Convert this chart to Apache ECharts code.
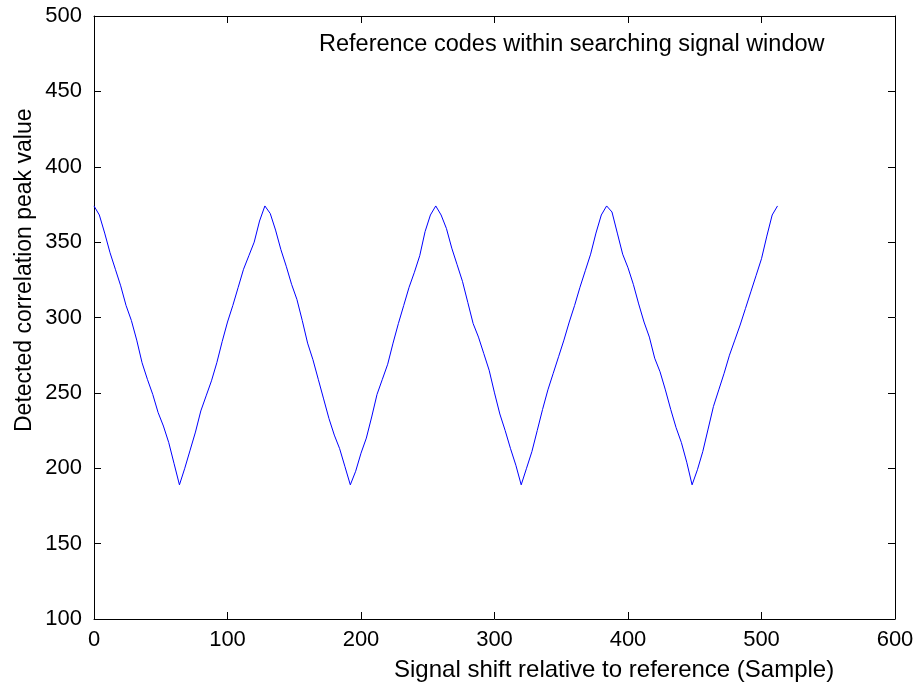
<!DOCTYPE html>
<html>
<head>
<meta charset="utf-8">
<script src="https://cdn.jsdelivr.net/npm/echarts@6/dist/echarts.min.js"></script>
<style>html,body{margin:0;padding:0;background:#fff}#c{width:922px;height:687px}</style>
</head>
<body>
<div id="c"></div>
<script>
var shift = [0,4,8,12,16,20,24,28,32,36,40,44,48,52,56,60,64,68,72,76,80,84,88,92,96,100,104,108,112,116,120,124,
128,132,136,140,144,148,152,156,160,164,168,172,176,180,184,188,192,196,200,204,208,212,216,220,224,228,232,236,240,244,248,252,
256,260,264,268,272,276,280,284,288,292,296,300,304,308,312,316,320,324,328,332,336,340,344,348,352,356,360,364,368,372,376,380,
384,388,392,396,400,404,408,412,416,420,424,428,432,436,440,444,448,452,456,460,464,468,472,476,480,484,488,492,496,500,504,508,512];
var peakValue = [374,368,356,343,332,321,308,298,285,270,259,249,237,228,217,203,189,200,212,224,238,248,258,270,284,297,308,320,332,341,350,364,
374,369,358,345,334,322,312,298,283,272,259,246,233,222,213,201,189,198,210,220,234,249,259,269,283,296,308,320,330,341,357,368,
374,368,359,346,335,324,310,296,287,276,265,250,236,225,213,202,189,200,211,225,239,252,263,274,285,297,308,320,331,342,356,368,
374,370,356,342,333,322,309,297,287,273,264,252,239,227,217,204,189,199,211,226,241,252,263,275,285,295,306,317,328,339,354,368,374];
var xTicks = [0,100,200,300,400,500,600];
var yTicks = [100,150,200,250,300,350,400,450,500];
var titleText = "Reference codes within searching signal window";
var xLabel = "Signal shift relative to reference (Sample)";
var yLabel = "Detected correlation peak value";

var data = shift.map(function(s,i){return [s, peakValue[i]];});
var font = "Liberation Sans, Arial, Helvetica, sans-serif";
var chart = echarts.init(document.getElementById('c'));
var axisCommon = {
  axisLine:{show:true,onZero:false,lineStyle:{color:'#000',width:1}},
  axisTick:{show:true,inside:true,length:7,lineStyle:{color:'#000',width:1}},
  splitLine:{show:false}
};
chart.setOption({
  animation:false,
  backgroundColor:'#fff',
  grid:{left:94,right:27,top:16,bottom:68,show:false},
  xAxis:[
    Object.assign({type:'value',min:xTicks[0],max:xTicks[xTicks.length-1],interval:100,position:'bottom',
      axisLabel:{show:true,color:'#000',fontSize:22,fontFamily:font,margin:10}}, axisCommon),
    Object.assign({type:'value',min:xTicks[0],max:xTicks[xTicks.length-1],interval:100,position:'top',
      axisLabel:{show:false}}, axisCommon)
  ],
  yAxis:[
    Object.assign({type:'value',min:yTicks[0],max:yTicks[yTicks.length-1],interval:50,position:'left',
      axisLabel:{show:true,color:'#000',fontSize:22,fontFamily:font,margin:12}}, axisCommon),
    Object.assign({type:'value',min:yTicks[0],max:yTicks[yTicks.length-1],interval:50,position:'right',
      axisLabel:{show:false}}, axisCommon)
  ],
  series:[{
    type:'line',data:data,showSymbol:false,smooth:false,
    lineStyle:{color:'#0000ff',width:1},
    xAxisIndex:0,yAxisIndex:0
  }],
  graphic:[
    {type:'text',x:319,y:45,style:{text:titleText,fontSize:23.5,fontFamily:font,fill:'#000',textVerticalAlign:'middle',verticalAlign:'middle'}},
    {type:'text',x:394,y:670,style:{text:xLabel,fontSize:24,fontFamily:font,fill:'#000',textVerticalAlign:'middle',verticalAlign:'middle'}},
    {type:'text',x:13,y:432,rotation:Math.PI/2,style:{text:yLabel,fontSize:23,fontFamily:font,fill:'#000'}}
  ]
});
</script>
</body>
</html>
